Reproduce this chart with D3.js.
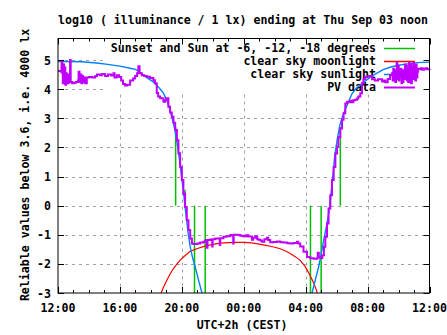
<!DOCTYPE html>
<html>
<head>
<meta charset="utf-8">
<script src="https://cdn.jsdelivr.net/npm/d3@7"></script>
<style>
  body { margin: 0; background: #fff; }
  text { font-family: "DejaVu Sans Mono", monospace; font-weight: bold; font-size: 11.6px; fill: #000; }
</style>
</head>
<body>
<div id="chart"></div>
<script>
// x values are hours after Sep 02 12:00 (CEST)
const xTickHours = [0, 4, 8, 12, 16, 20, 24];
const xTickLabels = ["12:00", "16:00", "20:00", "00:00", "04:00", "08:00", "12:00"];
const yTicks = [-3, -2, -1, 0, 1, 2, 3, 4, 5];

// sunset/sunrise and sun at -6, -12, -18 degrees
const sunEventHours = [7.6, 8.2, 8.82, 9.51, 16.31, 17.0, 17.6, 18.24];
const sunEventTop = [2.7, 0.55, -3, -3, -3, -3, 0.3, 2.7];

const moonlight = [
  [6.66, -3.0], [6.8, -2.82], [7.03, -2.56], [7.25, -2.34], [7.46, -2.16], [7.7, -1.99],
  [7.89, -1.87], [8.2, -1.72], [8.54, -1.57], [9.0, -1.47], [9.5, -1.39], [10.0, -1.33],
  [10.5, -1.29], [11.0, -1.27], [11.5, -1.26], [12.0, -1.26], [12.5, -1.28], [13.0, -1.32],
  [13.5, -1.37], [14.0, -1.43], [14.36, -1.48], [14.7, -1.56], [15.0, -1.64], [15.35, -1.76],
  [15.65, -1.88], [15.95, -2.08], [16.19, -2.3], [16.45, -2.58], [16.62, -2.79], [16.75, -3.0]
];

const sunlightEvening = [
  [0, 4.95], [1.5, 4.94], [2.5, 4.9], [3.2, 4.85], [4.0, 4.79], [4.66, 4.72], [5.0, 4.68],
  [5.3, 4.58], [5.6, 4.45], [6.15, 4.25], [6.5, 4.07], [6.8, 3.87], [7.05, 3.6], [7.24, 3.28],
  [7.4, 2.95], [7.57, 2.55], [7.77, 1.9], [7.96, 1.1], [8.1, 0.5], [8.21, -0.05], [8.32, -0.55],
  [8.42, -1.0], [8.54, -1.41], [8.7, -1.8], [8.86, -2.1], [9.08, -2.56], [9.3, -3.0]
];

const sunlightMorning = [
  [16.41, -3.0], [16.62, -2.56], [16.84, -2.1], [17.01, -1.64], [17.16, -1.19], [17.38, -0.61],
  [17.55, -0.04], [17.66, 0.53], [17.77, 1.1], [17.87, 1.68], [18.03, 2.25], [18.2, 2.75],
  [18.4, 3.1], [18.6, 3.35], [18.8, 3.6], [19.0, 3.85], [19.3, 4.05], [19.7, 4.22], [20.1, 4.38],
  [20.5, 4.52], [21.0, 4.67], [21.5, 4.76], [22.0, 4.82], [22.6, 4.87], [23.2, 4.91], [24.0, 4.93]
];

const pvData = [
  [0.0, 4.62], [0.19, 4.6], [0.23, 4.93], [0.28, 4.55], [0.31, 4.2], [0.34, 4.85], [0.39, 4.3],
  [0.43, 4.75], [0.47, 4.15], [0.52, 4.55], [0.56, 4.3], [0.6, 4.5], [0.65, 4.2], [0.69, 4.25],
  [0.74, 4.3], [0.78, 5.0], [0.82, 4.25], [0.91, 4.2], [1.03, 4.22], [1.16, 4.25], [1.29, 4.3],
  [1.33, 4.6], [1.39, 4.25], [1.46, 4.5], [1.51, 4.2], [1.57, 4.45], [1.62, 4.25], [1.68, 4.4],
  [1.75, 4.2], [1.86, 4.4], [2.01, 4.42], [2.2, 4.4], [2.39, 4.44], [2.52, 4.5], [2.72, 4.48],
  [2.85, 4.52], [3.04, 4.45], [3.23, 4.5], [3.43, 4.47], [3.58, 4.55], [3.65, 4.4], [3.8, 4.48],
  [3.95, 4.42], [4.08, 4.3], [4.2, 4.18], [4.33, 4.13], [4.46, 4.15], [4.66, 4.3], [4.85, 4.37],
  [4.98, 4.45], [5.11, 4.55], [5.19, 4.79], [5.27, 4.55], [5.41, 4.48], [5.56, 4.45], [5.74, 4.43],
  [5.95, 4.38], [6.16, 4.31], [6.27, 4.2], [6.38, 3.87], [6.47, 3.75], [6.6, 3.69], [6.81, 3.57],
  [6.92, 3.62], [6.99, 3.69], [7.13, 3.4], [7.24, 3.2], [7.35, 3.05], [7.46, 2.85], [7.57, 2.6],
  [7.68, 2.25], [7.78, 1.8], [7.89, 1.33], [8.0, 0.88], [8.1, 0.42], [8.21, -0.05], [8.32, -0.5],
  [8.43, -0.84], [8.54, -1.13], [8.65, -1.3], [8.75, -1.32], [8.99, -1.3], [9.18, -1.27],
  [9.4, -1.24], [9.51, -1.2], [9.6, -1.18], [9.62, -1.45], [9.66, -1.18], [9.83, -1.16],
  [9.93, -1.16], [9.96, -1.4], [9.99, -1.15], [10.16, -1.13], [10.35, -1.13], [10.45, -1.35],
  [10.48, -1.12], [10.69, -1.07], [10.87, -1.05], [11.13, -1.01], [11.26, -1.02], [11.32, -1.3],
  [11.35, -1.0], [11.45, -1.0], [11.64, -1.01], [11.77, -1.03], [11.97, -1.05], [12.16, -1.02],
  [12.29, -1.06], [12.42, -1.06], [12.53, -1.17], [12.61, -1.1], [12.74, -1.05], [12.87, -1.15],
  [12.96, -1.17], [13.07, -1.2], [13.18, -1.24], [13.33, -1.15], [13.5, -1.1], [13.58, -1.18],
  [13.71, -1.26], [13.91, -1.25], [14.15, -1.23], [14.36, -1.26], [14.57, -1.27], [14.81, -1.29],
  [15.01, -1.3], [15.2, -1.28], [15.44, -1.24], [15.52, -1.3], [15.65, -1.4], [15.86, -1.58],
  [16.09, -1.76], [16.3, -1.81], [16.52, -1.82], [16.73, -1.81], [16.78, -1.62], [16.85, -1.78],
  [16.97, -1.8], [17.08, -1.7], [17.18, -1.41], [17.27, -1.07], [17.38, -0.61], [17.48, -0.1],
  [17.59, 0.36], [17.7, 0.88], [17.81, 1.33], [17.92, 1.79], [18.03, 2.02], [18.11, 2.35],
  [18.24, 2.65], [18.35, 2.95], [18.45, 3.17], [18.56, 3.51], [18.67, 3.57], [18.76, 3.55],
  [18.89, 3.6], [19.0, 3.55], [19.08, 3.62], [19.21, 3.64], [19.32, 3.68], [19.4, 3.75],
  [19.53, 3.86], [19.64, 4.2], [19.73, 4.35], [19.85, 4.43], [20.07, 4.45], [20.29, 4.34],
  [20.47, 4.3], [20.68, 4.34], [20.94, 4.26], [21.04, 4.3], [21.15, 4.24], [21.3, 4.35],
  [21.45, 4.48], [21.58, 4.55], [21.62, 4.3], [21.66, 4.7], [21.7, 4.35], [21.75, 4.65],
  [21.79, 4.25], [21.84, 4.6], [21.88, 4.9], [21.92, 4.35], [21.97, 4.8], [22.01, 4.3],
  [22.05, 4.6], [22.1, 4.4], [22.14, 4.7], [22.19, 4.2], [22.23, 4.55], [22.28, 4.25],
  [22.32, 4.65], [22.37, 4.35], [22.41, 4.85], [22.45, 4.4], [22.5, 4.8], [22.54, 4.3],
  [22.59, 4.7], [22.63, 4.25], [22.68, 4.9], [22.72, 4.4], [22.77, 4.85], [22.81, 4.2],
  [22.86, 4.75], [22.9, 4.35], [22.95, 4.9], [22.99, 4.45], [23.04, 4.8], [23.08, 4.3],
  [23.13, 4.85], [23.17, 4.4], [23.22, 4.6], [23.26, 4.7], [23.35, 4.68], [23.45, 4.72],
  [23.55, 4.67], [23.65, 4.7], [23.75, 4.72], [23.85, 4.68], [24.0, 4.71]
];

const legendLabels = ["Sunset and Sun at -6, -12, -18 degrees", "clear sky moonlight", "clear sky sunlight", "PV data"];
const colors = ["#00c000", "#ff0000", "#0080ff", "#c000ff"];

const width = 447, height = 335;
const plotLeft = 58, plotRight = 429.5, plotTop = 38.5, plotBottom = 293;

const svg = d3.select("#chart").append("svg")
    .attr("width", width)
    .attr("height", height);

const x = d3.scaleLinear().domain([0, 24]).range([plotLeft, plotRight]);
const y = d3.scaleLinear().domain([-3, 5.74]).range([plotBottom, plotTop]);

// grid
const grid = svg.append("g")
    .attr("stroke", "#a0a0a0")
    .attr("stroke-width", 1)
    .attr("stroke-dasharray", "3,4");
grid.selectAll(".gy")
    .data(yTicks.filter(d => d > -3))
    .enter().append("line")
    .attr("x1", plotLeft).attr("x2", plotRight)
    .attr("y1", d => Math.round(y(d)) + 0.5)
    .attr("y2", d => Math.round(y(d)) + 0.5);
grid.selectAll(".gx")
    .data(xTickHours.filter(d => d > 0 && d < 24))
    .enter().append("line")
    .attr("x1", d => Math.round(x(d)) + 0.5)
    .attr("x2", d => Math.round(x(d)) + 0.5)
    .attr("y1", plotTop).attr("y2", plotBottom);

// key box hides the grid behind it
svg.append("rect")
    .attr("x", 104).attr("y", plotTop + 0.5)
    .attr("width", plotRight - 104 - 0.5).attr("height", 93 - plotTop)
    .attr("fill", "#fff");

// key
const key = svg.append("g");
legendLabels.forEach((label, i) => {
    const ky = 48 + i * 13;
    key.append("text")
        .attr("x", 376).attr("y", ky + 4)
        .attr("text-anchor", "end")
        .text(label);
    key.append("line")
        .attr("x1", 384).attr("x2", 415)
        .attr("y1", ky + 0.5).attr("y2", ky + 0.5)
        .attr("stroke", colors[i])
        .attr("stroke-width", i === 3 ? 2 : 1.5);
});

// sun events
svg.append("g").selectAll("line")
    .data(sunEventHours)
    .enter().append("line")
    .attr("x1", d => x(d)).attr("x2", d => x(d))
    .attr("y1", y(0))
    .attr("y2", (d, i) => y(sunEventTop[i]))
    .attr("stroke", colors[0])
    .attr("stroke-width", 1.5);

const line = d3.line().x(d => x(d[0])).y(d => y(d[1]));

svg.append("path")
    .datum(moonlight)
    .attr("d", line)
    .attr("fill", "none")
    .attr("stroke", colors[1])
    .attr("stroke-width", 1.2);

[sunlightEvening, sunlightMorning].forEach(s => {
    svg.append("path")
        .datum(s)
        .attr("d", line)
        .attr("fill", "none")
        .attr("stroke", colors[2])
        .attr("stroke-width", 1.4);
});

svg.append("path")
    .datum(pvData)
    .attr("d", line.curve(d3.curveStepAfter))
    .attr("fill", "none")
    .attr("stroke", colors[3])
    .attr("stroke-width", 2);

// frame and ticks
svg.append("rect")
    .attr("x", plotLeft).attr("y", plotTop)
    .attr("width", plotRight - plotLeft).attr("height", plotBottom - plotTop)
    .attr("fill", "none")
    .attr("stroke", "#000")
    .attr("stroke-width", 1);

const ticks = svg.append("g").attr("stroke", "#000").attr("stroke-width", 1);
d3.range(0, 25).forEach(h => {
    const len = h % 4 === 0 ? 6 : 3;
    const px = Math.round(x(h)) + 0.5;
    ticks.append("line").attr("x1", px).attr("x2", px).attr("y1", plotBottom).attr("y2", plotBottom - len);
    ticks.append("line").attr("x1", px).attr("x2", px).attr("y1", plotTop).attr("y2", plotTop + len);
});
yTicks.forEach(v => {
    const py = Math.round(y(v)) + 0.5;
    ticks.append("line").attr("x1", plotLeft).attr("x2", plotLeft + 6).attr("y1", py).attr("y2", py);
    ticks.append("line").attr("x1", plotRight).attr("x2", plotRight - 6).attr("y1", py).attr("y2", py);
});

// tick labels
svg.append("g").selectAll("text")
    .data(yTicks)
    .enter().append("text")
    .attr("x", 51)
    .attr("y", d => y(d) + 4.5)
    .attr("text-anchor", "end")
    .text(d => d);

svg.append("g").selectAll("text")
    .data(xTickHours)
    .enter().append("text")
    .attr("x", d => x(d))
    .attr("y", 311.5)
    .attr("text-anchor", "middle")
    .text((d, i) => xTickLabels[i]);

// titles
svg.append("text")
    .attr("x", 243).attr("y", 24)
    .attr("text-anchor", "middle")
    .text("log10 ( illuminance / 1 lx) ending at Thu Sep 03 noon");

svg.append("text")
    .attr("x", 242).attr("y", 329)
    .attr("text-anchor", "middle")
    .text("UTC+2h (CEST)");

svg.append("text")
    .attr("transform", "translate(28.5,165) rotate(-90)")
    .attr("text-anchor", "middle")
    .text("Reliable values below 3.6, i.e. 4000 lx");
</script>
</body>
</html>
